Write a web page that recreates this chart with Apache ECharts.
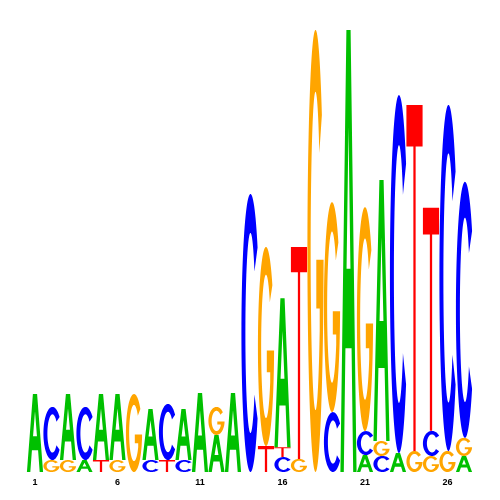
<!DOCTYPE html>
<html><head><meta charset="utf-8">
<script src="https://cdn.jsdelivr.net/npm/echarts@6/dist/echarts.min.js"></script>
<style>html,body{margin:0;padding:0;background:#fff}#chart{width:500px;height:500px}</style>
</head><body><div id="chart"></div>
<script>
// ---- data (information content in bits) ----
const positions = ['1','2','3','4','5','6','7','8','9','10','11','12','13','14','15','16','17','18','19','20','21','22','23','24','25','26','27'];
const heightA = [0.345,0,0.292,0.053,0.292,0.292,0,0.226,0,0.226,0.350,0.164,0.350,0,0,0.659,0,0,0,1.956,0.075,1.155,0.084,0,0,0,0.071];
const heightC = [0,0.235,0,0.235,0,0,0,0.053,0.248,0.053,0,0,0,1.230,0,0.066,0,0,0.265,0,0.106,0.071,1.584,0,0.111,1.531,1.133];
const heightG = [0,0.053,0.053,0,0,0.053,0.345,0,0,0,0,0.124,0,0,0.881,0,0.058,1.956,0.929,0,0.991,0.066,0,0.093,0.071,0.093,0.080];
const heightT = [0,0,0,0,0.053,0,0,0,0.053,0,0,0,0,0,0.115,0.044,0.938,0,0,0,0,0,0,1.531,0.987,0,0];
// stacking order per position, bottom to top
const stackOrder = ['A','GC','GA','AC','TA','GA','G','CA','TC','CA','A','AG','A','C','TG','CTA','GT','G','CG','A','ACG','CGA','AC','GT','GCT','GC','AGC'];
const tickLabelEvery = 5;

// ---- glyph outlines (unit 100x100 box) ----
function ell(cx, cy, rx, ry, t0, t1, n) {
  const pts = [];
  for (let k = 0; k <= n; k++) {
    const t = (t0 + (t1 - t0) * k / n) * Math.PI / 180;
    pts.push([cx + rx * Math.cos(t), cy - ry * Math.sin(t)]);
  }
  return pts;
}
function poly(pts) {
  return 'M' + pts.map(p => p[0].toFixed(2) + ' ' + p[1].toFixed(2)).join(' L') + ' Z';
}
const glyphC = (function () {
  const o = ell(50, 50, 50, 50, 38, 322, 80);
  const i = ell(50, 50, 28, 36, 322, 38, 80);
  return poly(o.concat(i));
})();
const glyphG = (function () {
  const o = ell(50, 50, 50, 50, 38, 357.7, 90);
  const tIn = -Math.acos(26 / 30) * 180 / Math.PI + 360;
  const mid = [[100, 52], [55, 52], [55, 63], [76, 63]];
  const i = ell(50, 50, 30, 36, tIn, 38, 80);
  return poly(o.concat(mid, i));
})();
const glyphA = 'M0 100 L37 0 L63 0 L100 100 L79 100 L69 72 L31 72 L21 100 Z M38 54 L62 54 L50 22 Z';
const glyphT = 'M0 0 L100 0 L100 12 L57 12 L57 100 L43 100 L43 12 L0 12 Z';

const glyph = { A: glyphA, C: glyphC, G: glyphG, T: glyphT };
const colors = { A: '#00C000', C: '#0000FF', G: '#FFA500', T: '#FF0000' };
const heights = { A: heightA, C: heightC, G: heightG, T: heightT };

const chart = echarts.init(document.getElementById('chart'), null, { renderer: 'canvas' });
chart.setOption({
  animation: false,
  backgroundColor: '#fff',
  grid: { left: 26.75, right: 27.75, top: 20, bottom: 28 },
  xAxis: {
    type: 'category', data: positions,
    axisLine: { show: false }, axisTick: { show: false }, splitLine: { show: false },
    axisLabel: { interval: tickLabelEvery - 1, color: '#000', fontSize: 9, fontWeight: 'bold',
      fontFamily: 'Liberation Sans', margin: 6 }
  },
  yAxis: { type: 'value', min: 0, max: 2, show: false },
  series: [{
    type: 'custom',
    data: positions.map((p, i) => [i, heightA[i] + heightC[i] + heightG[i] + heightT[i]]),
    encode: { x: 0, y: 1 },
    renderItem: function (params, api) {
      const i = api.value(0);
      const w = api.size([1, 0])[0] * 0.98;
      const cx = api.coord([i, 0])[0];
      let cum = 0;
      const children = [];
      for (const ch of stackOrder[i]) {
        const h = heights[ch][i];
        if (!h) continue;
        const yb = api.coord([i, cum])[1];
        const yt = api.coord([i, cum + h])[1];
        children.push({
          type: 'path',
          shape: { pathData: glyph[ch], x: cx - w / 2, y: yt, width: w, height: yb - yt, layout: 'cover' },
          style: { fill: colors[ch] }
        });
        cum += h;
      }
      return { type: 'group', children: children };
    }
  }]
});
</script></body></html>
